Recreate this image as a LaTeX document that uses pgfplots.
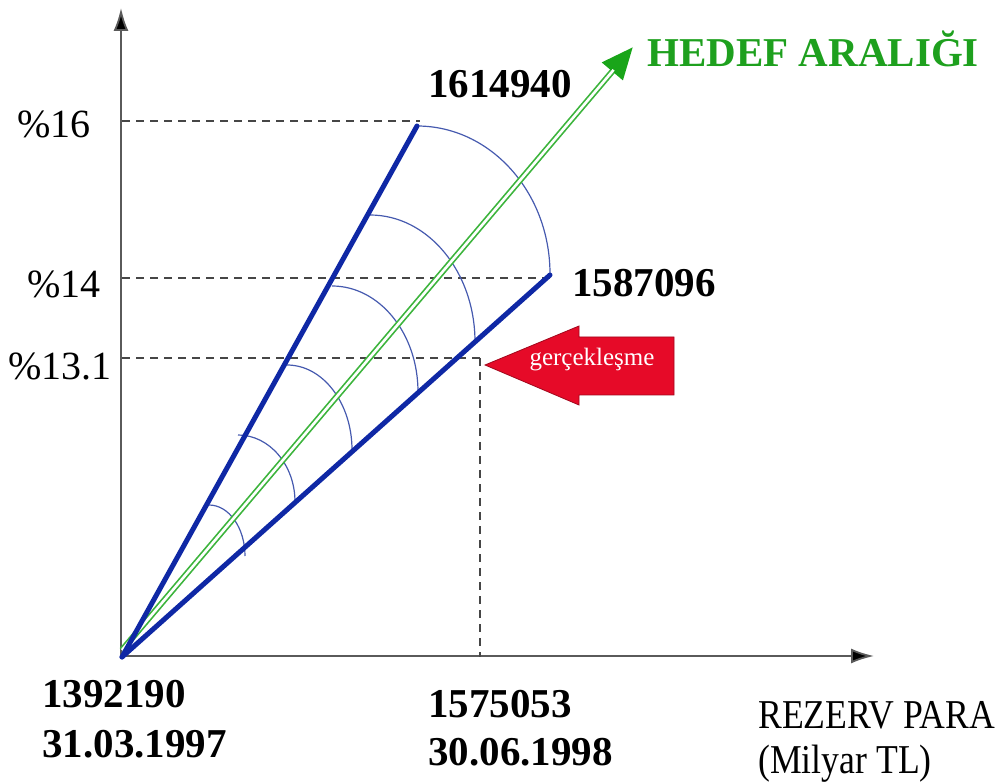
\documentclass[border=0pt]{standalone}
\usepackage{pgfplots}
\pgfplotsset{compat=1.18}
\usepackage{fontspec}
\setmainfont{Liberation Serif}
\usetikzlibrary{arrows.meta}
\definecolor{lineblue}{RGB}{15,40,165}
\definecolor{arcblue}{RGB}{70,90,175}
\definecolor{hgreen}{RGB}{60,180,60}
\definecolor{headgreen}{RGB}{25,165,25}
\definecolor{tgreen}{RGB}{30,160,30}
\definecolor{dashgray}{RGB}{70,70,70}
\definecolor{axisgray}{RGB}{90,90,90}
\definecolor{arrowred}{RGB}{230,10,40}
\begin{document}
\begin{tikzpicture}
\begin{axis}[
  scale only axis, width=500pt, height=390.5pt,
  xmin=0, xmax=1000, ymin=0, ymax=781, y dir=reverse,
  hide axis, clip=false]
\path (axis cs:0,0) rectangle (axis cs:1000,781);
% axes
\addplot[axisgray, line width=0.9pt, -{Latex[length=11.5pt,width=7.5pt,fill=black]}] coordinates {(121,657) (121,8)};
\addplot[axisgray, line width=0.9pt, -{Latex[length=11.5pt,width=7.5pt,fill=black]}] coordinates {(121,656) (874,656)};
% dashed guides
\addplot[dashgray, line width=0.6pt, dash pattern=on 4pt off 3pt] coordinates {(122,121) (420,121)};
\addplot[dashgray, line width=0.6pt, dash pattern=on 4pt off 3pt] coordinates {(122,278) (550,278)};
\addplot[dashgray, line width=0.6pt, dash pattern=on 4pt off 3pt] coordinates {(122,358) (480,358)};
\addplot[dashgray, line width=0.6pt, dash pattern=on 4pt off 3pt] coordinates {(480,358) (480,657)};
% arcs
\draw[arcblue, line width=0.6pt] (axis cs:209,505) arc[start angle=90, end angle=0, x radius=18pt, y radius=25.5pt];
\draw[arcblue, line width=0.6pt] (axis cs:238,435) arc[start angle=90, end angle=0, x radius=28.5pt, y radius=33.5pt];
\draw[arcblue, line width=0.6pt] (axis cs:287,365) arc[start angle=90, end angle=0, x radius=32.5pt, y radius=42.5pt];
\draw[arcblue, line width=0.6pt] (axis cs:332,286) arc[start angle=90, end angle=0, x radius=43pt, y radius=53pt];
\draw[arcblue, line width=0.6pt] (axis cs:370,215) arc[start angle=90, end angle=0, x radius=52.5pt, y radius=63.5pt];
\draw[arcblue, line width=0.6pt] (axis cs:417,126) arc[start angle=90, end angle=0, x radius=66.5pt, y radius=74pt];
% green double arrow
\addplot[hgreen, line width=3pt, -{Triangle[length=16pt,width=13pt,color=headgreen]}] coordinates {(122,650) (633,47)};
\addplot[white, line width=1.3pt, shorten >=15pt] coordinates {(122,650) (633,47)};
% blue lines
\addplot[lineblue, line width=2.5pt, line cap=round] coordinates {(122,657) (417,126)};
\addplot[lineblue, line width=2.5pt, line cap=round] coordinates {(122,657) (550,275)};
% red arrow
\addplot[fill=arrowred, draw=arrowred!70!black, line width=0.4pt] coordinates {(485,365) (579,326) (579,337) (674,337) (674,395) (579,395) (579,405)} --cycle;
\node[text=white, font=\fontsize{12.5}{14}\selectfont] at (axis cs:592,360) {gerçekleşme};
% labels
\node[anchor=base west, font=\fontsize{20}{24}\selectfont, inner sep=0pt] at (axis cs:17,138) {\%16};
\node[anchor=base west, font=\fontsize{20}{24}\selectfont, inner sep=0pt] at (axis cs:27,298) {\%14};
\node[anchor=base west, font=\fontsize{20}{24}\selectfont, inner sep=0pt] at (axis cs:8,380) {\%13.1};
\node[anchor=base west, font=\fontsize{20.5}{24}\selectfont\bfseries, inner sep=0pt] at (axis cs:428,98) {1614940};
\node[anchor=base west, font=\fontsize{20.5}{24}\selectfont\bfseries, inner sep=0pt] at (axis cs:572,297) {1587096};
\node[anchor=base west, font=\fontsize{20.5}{24}\selectfont\bfseries, inner sep=0pt] at (axis cs:42,707) {1392190};
\node[anchor=base west, font=\fontsize{20.5}{24}\selectfont\bfseries, inner sep=0pt] at (axis cs:42,757) {31.03.1997};
\node[anchor=base west, font=\fontsize{20.5}{24}\selectfont\bfseries, inner sep=0pt] at (axis cs:428,717) {1575053};
\node[anchor=base west, font=\fontsize{20.5}{24}\selectfont\bfseries, inner sep=0pt] at (axis cs:428,765) {30.06.1998};
\node[anchor=base west, font=\fontsize{20.5}{24}\selectfont\bfseries, text=tgreen, inner sep=0pt] at (axis cs:647,67) {HEDEF ARALIĞI};
\node[anchor=base west, font=\fontsize{20.5}{24}\selectfont, inner sep=0pt, xscale=0.87] at (axis cs:758,728) {REZERV PARA};
\node[anchor=base west, font=\fontsize{20.5}{24}\selectfont, inner sep=0pt, xscale=0.87] at (axis cs:758,773) {(Milyar TL)};
\end{axis}
\end{tikzpicture}
\end{document}
